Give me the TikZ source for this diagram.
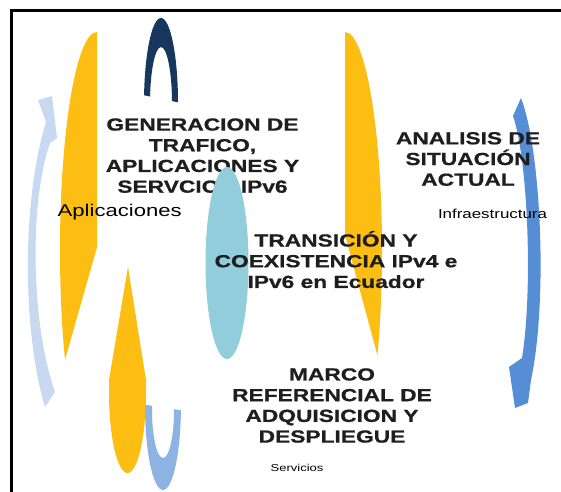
\documentclass[tikz,border=0pt]{standalone}
\usepackage{fontspec}
\setmainfont{Liberation Sans}
\newfontfamily\widesans[FakeStretch=1.3]{Liberation Sans}
\newfontfamily\widebold[FakeStretch=1.3,FakeBold=0.8]{Liberation Sans}
\definecolor{gold}{RGB}{252,190,18}
\definecolor{navy}{RGB}{23,55,94}
\definecolor{aqua}{RGB}{146,205,220}
\definecolor{paleblue}{RGB}{198,217,241}
\definecolor{midblue}{RGB}{85,142,213}
\definecolor{ublue}{RGB}{141,179,226}
\definecolor{textc}{RGB}{30,30,30}
\begin{document}
\begin{tikzpicture}[x=1pt,y=-1pt,
  title/.style={font=\widebold\bfseries\fontsize{17.5}{20.7}\selectfont, align=center, inner sep=0pt, text=textc},
  small/.style={font=\widesans, inner sep=0pt, anchor=base, text=black}]
\useasboundingbox (0,0) rectangle (561,491);
% frame
\draw[line width=2.7pt, line join=miter] (11.3,495) -- (11.3,10.3) -- (565,10.3);
% left yellow
\begin{scope}
  \clip (0,0) -- (97,0) -- (97,247) -- (31,480) -- (0,480) -- cycle;
  \fill[gold] (97,250) ellipse [x radius=37, y radius=218];
\end{scope}
% right yellow
\begin{scope}
  \clip (345,0) -- (345,235) -- (411,480) -- (480,480) -- (480,0) -- cycle;
  \fill[gold] (345,250) ellipse [x radius=37, y radius=218];
\end{scope}
% lower yellow
\fill[gold] (128,267) -- (109,380) -- (109,392) -- (146,392) -- (146,380) -- cycle;
\begin{scope}
  \clip (100,380) rectangle (155,480);
  \fill[gold] (127.5,392) ellipse [x radius=18.5, y radius=81];
\end{scope}
% navy arch
\begin{scope}
  \clip (138,0) -- (186,0) -- (186,104) -- (138,94) -- cycle;
  \fill[navy, even odd rule] (161,103) ellipse [x radius=17, y radius=85]
    (161,103) ellipse [x radius=11, y radius=56];
\end{scope}
% small U arrow
\begin{scope}
  \clip (140,404) -- (186,411) -- (186,495) -- (140,495) -- cycle;
  \fill[ublue, even odd rule] (163,405) ellipse [x radius=18, y radius=85]
    (163,410) ellipse [x radius=11, y radius=48];
\end{scope}
% left pale arrow
\fill[paleblue] (46,122) .. controls (22,200) and (22,330) .. (45,407) -- (55,392)
  .. controls (30,320) and (30,200) .. (50,143) -- (57,138) -- (52,96) -- (38,100) -- cycle;
% right blue arrow
\fill[midblue] (521,98) .. controls (541,150) and (548,300) .. (531,380) -- (528,403)
  -- (515,408) -- (509,367) -- (522,358) .. controls (533,290) and (528,160) .. (513,116) -- cycle;
% texts
\node[title] (gen) at (202.5,155.6) {GENERACION DE\\TRAFICO,\\APLICACIONES Y\\SERVCIOS IPv6};
\fill[aqua] (227,263) ellipse [x radius=21.5, y radius=96];
\node[title] (ana) at (468,159) {ANALISIS DE\\SITUACI\smash{Ó}N\\ACTUAL};
\node[title] (tra) at (336,261.2) {TRANSICI\smash{Ó}N Y\\COEXISTENCIA IPv4 e\\IPv6 en Ecuador};
\node[title] (mar) at (332,405.5) {MARCO\\REFERENCIAL DE\\ADQUISICION Y\\DESPLIEGUE};
\node[small, font=\widesans\fontsize{17}{20}\selectfont] (apl) at (119.7,216) {Aplicaciones};
\node[small, font=\widesans\fontsize{13}{15}\selectfont] (inf) at (492.5,218) {Infraestructura};
\node[small, font=\widesans\fontsize{10}{12}\selectfont] (ser) at (297,471) {Servicios};
\end{tikzpicture}
\end{document}
